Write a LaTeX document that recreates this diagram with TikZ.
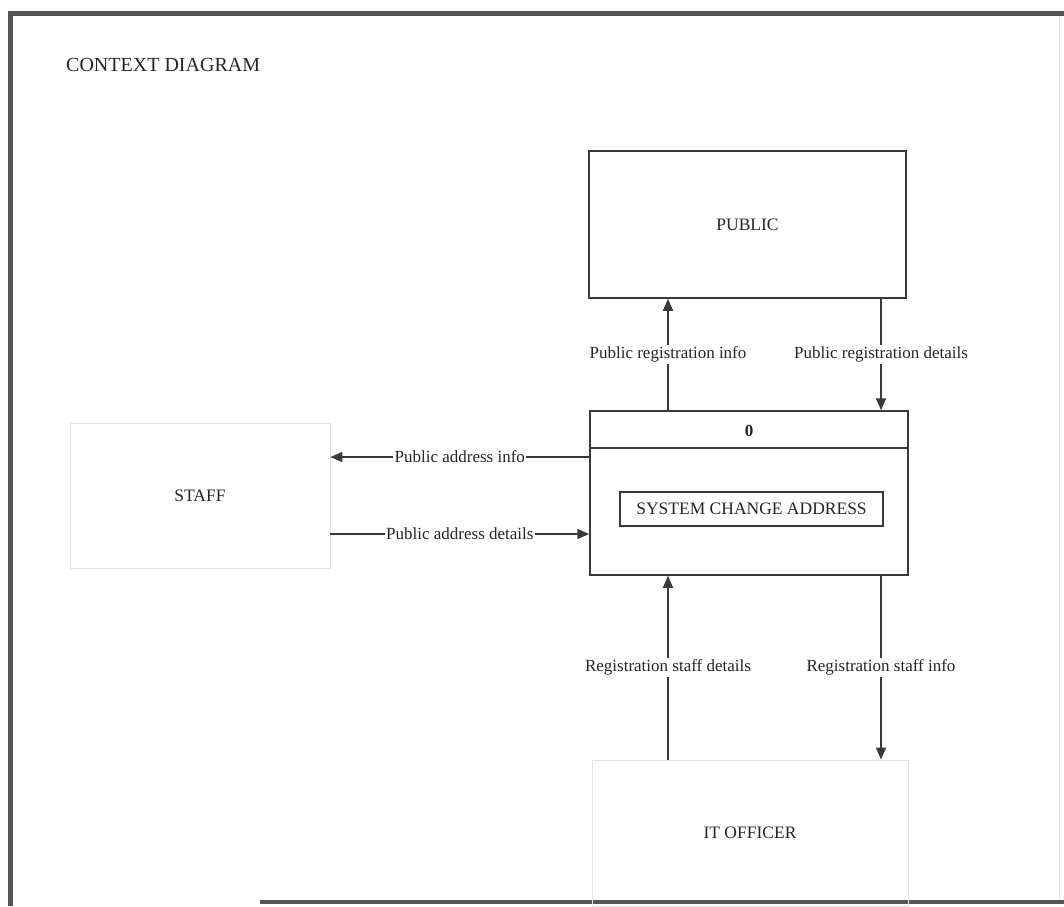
\documentclass[tikz,border=0pt]{standalone}
\usepackage{fontspec}
\setmainfont{Liberation Serif}
\usetikzlibrary{arrows.meta}
\definecolor{ink}{HTML}{3A3A3A}
\definecolor{txt}{HTML}{262626}
\definecolor{frame}{HTML}{555555}
\definecolor{faint}{HTML}{E2E2E2}
\begin{document}
\begin{tikzpicture}[x=1pt,y=-1pt,
  entity/.style={draw=ink,line width=1.5pt,minimum width=#1,inner sep=0pt,text=txt,font=\fontsize{17.5}{20}\selectfont},
  ghost/.style={draw=faint,line width=0.8pt,inner sep=0pt,text=txt,font=\fontsize{17.5}{20}\selectfont},
  flow/.style={draw=ink,line width=1.5pt,-{Triangle[length=12pt,width=10pt]}},
  lbl/.style={fill=white,inner sep=1.5pt,text=txt,font=\fontsize{17}{20}\selectfont}]
\useasboundingbox (0,0) rectangle (1064,906);
\fill[white] (0,0) rectangle (1064,906);
% outer frame
\draw[frame,line width=5pt] (10,906) -- (10,13) -- (1064,13);
\draw[frame,line width=4pt] (260,902) -- (1064,902);
\draw[faint,line width=1pt] (1059,16) -- (1059,900);
% title
\node[anchor=base west,inner sep=0pt,text=txt,font=\fontsize{20}{24}\selectfont] (title) at (66,71) {CONTEXT DIAGRAM};
% entities
\node[entity=317pt,minimum height=147pt] (public) at (747.5,224.5) {PUBLIC};
\node[entity=318pt,minimum height=164pt] (central) at (749,493) {};
\node[font=\bfseries\fontsize{17}{20}\selectfont,text=txt,inner sep=0pt] (zero) at (749,431) {0};
\coordinate (ydiv) at (0,448);
\draw[ink,line width=1.5pt] (central.west |- ydiv) -- (central.east |- ydiv);
\node[entity=263pt,minimum height=34pt,line width=1.3pt] (proc) at (751.5,509) {SYSTEM CHANGE ADDRESS};
\node[ghost,minimum width=260pt,minimum height=145pt] (staff) at (200,495.5) {STAFF};
\node[ghost,minimum width=316pt,minimum height=146pt] (itoff) at (750,833) {IT OFFICER};
% flow positions
\coordinate (xl) at (668,0);
\coordinate (xr) at (881,0);
\coordinate (ya) at (0,457);
\coordinate (yb) at (0,534);
% flows
\draw[flow] (central.north -| xl) -- node[lbl]{Public registration info} (public.south -| xl);
\draw[flow] (public.south -| xr) -- node[lbl]{Public registration details} (central.north -| xr);
\draw[flow] (central.west |- ya) -- node[lbl]{Public address info} (staff.east |- ya);
\draw[flow] (staff.east |- yb) -- node[lbl]{Public address details} (central.west |- yb);
\draw[flow] (itoff.north -| xl) -- node[lbl]{Registration staff details} (central.south -| xl);
\draw[flow] (central.south -| xr) -- node[lbl]{Registration staff info} (itoff.north -| xr);
\end{tikzpicture}
\end{document}
